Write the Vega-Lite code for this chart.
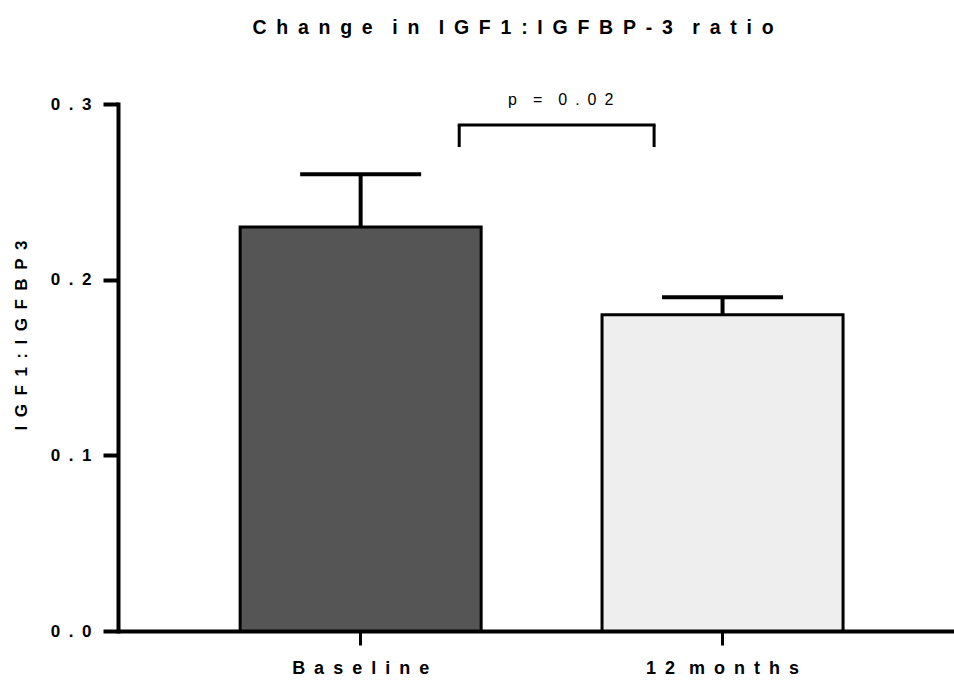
{
  "$schema": "https://vega.github.io/schema/vega-lite/v6.json",
  "autosize": {"type": "none"},
  "padding": {"left": 118, "top": 104, "right": 0, "bottom": 51},
  "width": 836,
  "height": 527,
  "background": "white",
  "config": {
    "view": {"stroke": null},
    "font": "Liberation Sans"
  },
  "title": {
    "text": "C\u2002h\u2002a\u2002n\u2002g\u2002e\u2002\u2002i\u2002n\u2002\u2002I\u2002G\u2002F\u20021\u2002:\u2002I\u2002G\u2002F\u2002B\u2002P\u2002-\u20023\u2002\u2002r\u2002a\u2002t\u2002i\u2002o",
    "fontSize": 19.5,
    "fontWeight": "bold",
    "font": "Liberation Sans",
    "color": "black",
    "anchor": "middle",
    "dx": -23,
    "offset": 54
  },
  "datasets": {
    "bars": [
      {"group": "Baseline", "mean": 0.23, "upper": 0.26},
      {"group": "12 months", "mean": 0.18, "upper": 0.19}
    ],
    "bracket": [
      {"from": "Baseline", "to": "12 months", "top": 0.288, "bottom": 0.2755, "label": "p\u2003=\u20030\u2002.\u20020\u20022", "labelY": 0.302}
    ]
  },
  "encoding": {
    "x": {
      "field": "group",
      "type": "nominal",
      "scale": {"domain": ["Baseline", "12 months"], "paddingInner": 0.334, "paddingOuter": 0.322, "align": 0.524},
      "axis": {
        "title": null,
        "labelAngle": 0,
        "labelFont": "Liberation Sans",
        "labelFontSize": 18,
        "labelFontWeight": "bold",
        "labelColor": "black",
        "labelPadding": 14,
        "labelExpr": "replace(join(split(datum.label, ''), '\u2002'), '\u2002 \u2002', '\u2002 ')",
        "domainColor": "black",
        "domainWidth": 4,
        "tickColor": "black",
        "tickWidth": 3,
        "tickSize": 14
      }
    }
  },
  "layer": [
    {
      "data": {"name": "bars"},
      "mark": {"type": "bar", "stroke": "black", "strokeWidth": 3, "opacity": 1},
      "encoding": {
        "y": {
          "field": "mean",
          "type": "quantitative",
          "scale": {"domain": [0, 0.3], "nice": false},
          "axis": {
            "title": "I\u2002G\u2002F\u20021\u2002:\u2002I\u2002G\u2002F\u2002B\u2002P\u20023",
            "titleFont": "Liberation Sans",
            "titleFontSize": 17,
            "titleFontWeight": "bold",
            "titleColor": "black",
            "titleX": -97,
            "titleY": 231,
            "titleBaseline": "middle",
            "titleAnchor": "middle",
            "values": [0, 0.1, 0.2, 0.3],
            "format": ".1f",
            "labelExpr": "join(split(datum.label, ''), '\u2002')",
            "labelFont": "Liberation Sans",
            "labelFontSize": 17,
            "labelFontWeight": "bold",
            "labelColor": "black",
            "labelPadding": 12,
            "grid": false,
            "domainColor": "black",
            "domainWidth": 4,
            "domainCap": "square",
            "tickColor": "black",
            "tickWidth": 4,
            "tickSize": 15
          }
        },
        "fill": {
          "field": "group",
          "type": "nominal",
          "scale": {"domain": ["Baseline", "12 months"], "range": ["#555555", "#eeeeee"]},
          "legend": null
        }
      }
    },
    {
      "data": {"name": "bars"},
      "mark": {"type": "rule", "color": "black", "strokeWidth": 4, "opacity": 1},
      "encoding": {
        "y": {"field": "mean", "type": "quantitative"},
        "y2": {"field": "upper"}
      }
    },
    {
      "data": {"name": "bars"},
      "mark": {"type": "tick", "color": "black", "size": 121, "thickness": 4, "opacity": 1},
      "encoding": {
        "y": {"field": "upper", "type": "quantitative"}
      }
    },
    {
      "data": {"name": "bracket"},
      "mark": {"type": "rule", "color": "black", "strokeWidth": 3, "opacity": 1},
      "encoding": {
        "x": {"field": "from", "type": "nominal", "bandPosition": 0.909},
        "y": {"field": "top", "type": "quantitative"},
        "y2": {"field": "bottom"}
      }
    },
    {
      "data": {"name": "bracket"},
      "mark": {"type": "rule", "color": "black", "strokeWidth": 3, "opacity": 1},
      "encoding": {
        "x": {"field": "to", "type": "nominal", "bandPosition": 0.216},
        "y": {"field": "top", "type": "quantitative"},
        "y2": {"field": "bottom"}
      }
    },
    {
      "data": {"name": "bracket"},
      "mark": {"type": "rule", "color": "black", "strokeWidth": 3, "strokeCap": "square", "opacity": 1},
      "encoding": {
        "x": {"field": "from", "type": "nominal", "bandPosition": 0.909},
        "x2": {"field": "to", "bandPosition": 0.216},
        "y": {"field": "top", "type": "quantitative"}
      }
    },
    {
      "data": {"name": "bracket"},
      "mark": {"type": "text", "fontSize": 16, "color": "black", "baseline": "middle", "align": "center", "font": "Liberation Sans"},
      "encoding": {
        "x": {"field": "from", "type": "nominal", "bandPosition": 1.33},
        "y": {"field": "labelY", "type": "quantitative"},
        "text": {"field": "label"}
      }
    }
  ]
}
